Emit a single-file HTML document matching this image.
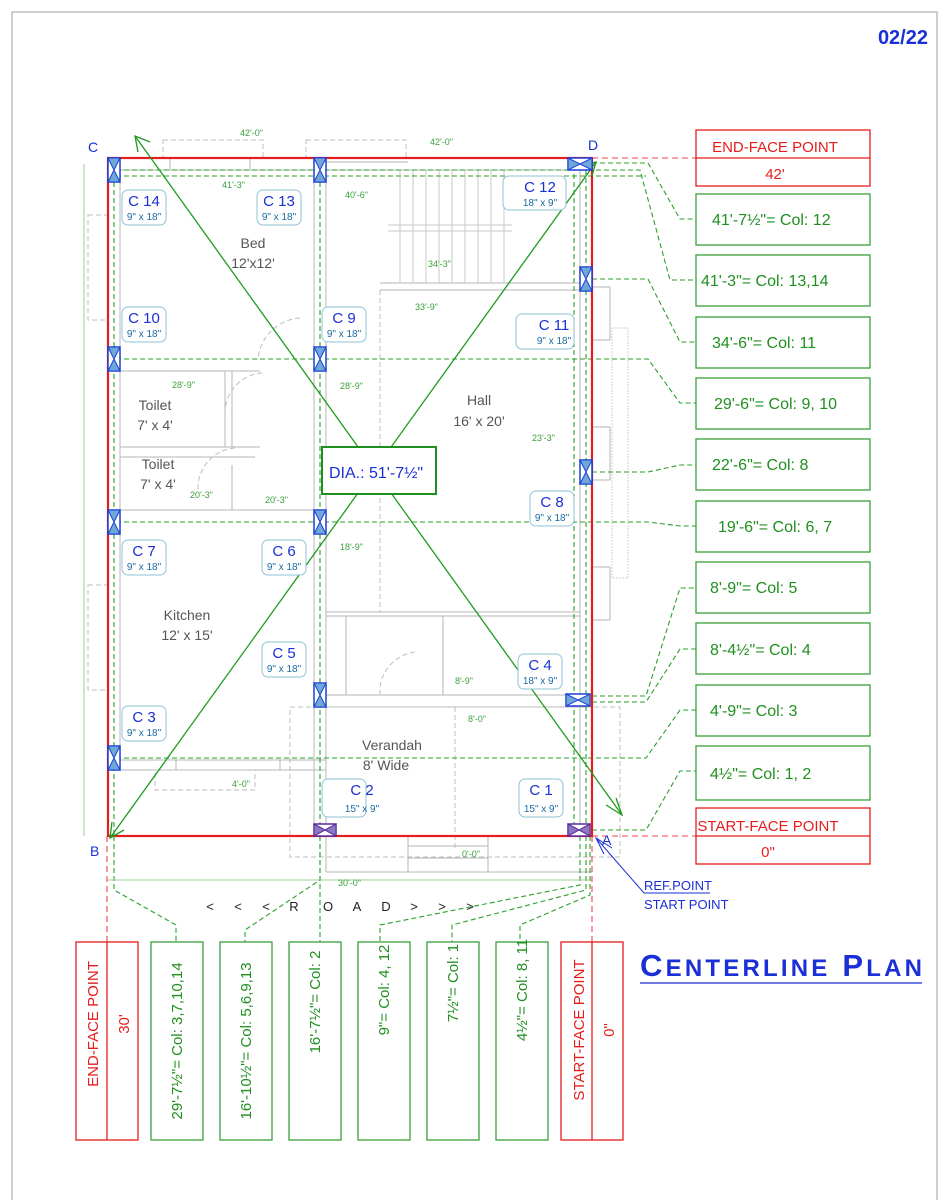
<!DOCTYPE html>
<html><head><meta charset="utf-8"><style>
html,body{margin:0;padding:0;background:#fff;}
svg{display:block;font-family:"Liberation Sans",sans-serif;}
</style></head><body>
<svg width="949" height="1200" viewBox="0 0 949 1200" xmlns="http://www.w3.org/2000/svg">
<defs>
<g id="cv"><rect x="0" y="0" width="12" height="24" fill="#fff" stroke="#1a3fd6" stroke-width="1.5"/><polygon points="0,0 12,0 6,12 12,24 0,24 6,12" fill="#6fa8d6" stroke="#1a3fd6" stroke-width="1"/></g>
<g id="ch"><rect x="0" y="0" width="24" height="12" fill="#fff" stroke="#1a3fd6" stroke-width="1.5"/><polygon points="0,0 12,6 24,0 24,12 12,6 0,12" fill="#6fa8d6" stroke="#1a3fd6" stroke-width="1"/></g>
<g id="cp"><rect x="0" y="0" width="22" height="12" fill="#fff" stroke="#5a2aa0" stroke-width="1.5"/><polygon points="0,0 11,6 22,0 22,12 11,6 0,12" fill="#8a78c0" stroke="#5a2aa0" stroke-width="1"/></g>
</defs>
<rect width="949" height="1200" fill="#fff"/>
<polyline points="12,1200 12,12 937,12 937,1200" fill="none" stroke="#bdbdbd" stroke-width="1.5"/>
<text x="928" y="44" font-size="20" font-weight="bold" fill="#1a2fd6" text-anchor="end">02/22</text>

<!-- gray walls -->
<g stroke="#b5b5b5" fill="none" stroke-width="1">
<rect x="108" y="158" width="484" height="678"/>
<line x1="120" y1="170" x2="580" y2="170"/>
<line x1="120" y1="170" x2="120" y2="770"/>
<line x1="314" y1="170" x2="314" y2="830"/>
<line x1="326" y1="170" x2="326" y2="830"/>
<line x1="580" y1="170" x2="580" y2="830"/>
<line x1="120" y1="371" x2="260" y2="371"/>
<line x1="120" y1="447" x2="260" y2="447"/>
<line x1="120" y1="457" x2="255" y2="457"/>
<line x1="120" y1="510" x2="314" y2="510"/>
<line x1="225" y1="371" x2="225" y2="447"/>
<line x1="232" y1="371" x2="232" y2="447"/>
<line x1="232" y1="465" x2="232" y2="510"/>
<line x1="380" y1="283" x2="580" y2="283"/>
<line x1="380" y1="290" x2="580" y2="290"/>
<line x1="326" y1="612" x2="580" y2="612"/>
<line x1="326" y1="616" x2="580" y2="616"/>
<line x1="346" y1="616" x2="346" y2="695"/>
<line x1="443" y1="616" x2="443" y2="695"/>
<line x1="326" y1="695" x2="592" y2="695"/>
<line x1="326" y1="707" x2="592" y2="707"/>
<line x1="120" y1="760" x2="326" y2="760"/>
<line x1="120" y1="770" x2="326" y2="770"/>
<line x1="176" y1="760" x2="176" y2="770"/>
<line x1="280" y1="760" x2="280" y2="770"/>
<line x1="326" y1="836" x2="326" y2="872"/>
<line x1="326" y1="872" x2="592" y2="872"/>
<line x1="408" y1="836" x2="408" y2="872"/>
<line x1="488" y1="836" x2="488" y2="872"/>
<line x1="408" y1="846" x2="488" y2="846"/>
<line x1="408" y1="858" x2="488" y2="858"/>
<line x1="170" y1="158" x2="170" y2="170"/><line x1="250" y1="158" x2="250" y2="170"/>
<line x1="326" y1="162" x2="408" y2="162"/>
<line x1="592" y1="287" x2="610" y2="287"/><line x1="610" y1="287" x2="610" y2="340"/><line x1="592" y1="340" x2="610" y2="340"/>
<line x1="592" y1="427" x2="610" y2="427"/><line x1="610" y1="427" x2="610" y2="480"/><line x1="592" y1="480" x2="610" y2="480"/>
<line x1="592" y1="567" x2="610" y2="567"/><line x1="610" y1="567" x2="610" y2="620"/><line x1="592" y1="620" x2="610" y2="620"/>
</g>
<g stroke="#c8c8c8" fill="none" stroke-width="1">
<line x1="400" y1="170" x2="400" y2="283"/><line x1="413" y1="170" x2="413" y2="283"/><line x1="426" y1="170" x2="426" y2="283"/>
<line x1="439" y1="170" x2="439" y2="283"/><line x1="452" y1="170" x2="452" y2="283"/><line x1="465" y1="170" x2="465" y2="283"/>
<line x1="478" y1="170" x2="478" y2="283"/><line x1="491" y1="170" x2="491" y2="283"/><line x1="504" y1="170" x2="504" y2="283"/>
<line x1="388" y1="225" x2="512" y2="225"/><line x1="388" y1="231" x2="512" y2="231"/>
<rect x="612" y="328" width="16" height="250" stroke="#d0d0d0" stroke-dasharray="2,1"/>
</g>
<g stroke="#bdbdbd" fill="none" stroke-width="1" stroke-dasharray="5,3">
<rect x="163" y="140" width="100" height="18"/>
<rect x="306" y="140" width="100" height="18"/>
<rect x="88" y="215" width="20" height="105"/>
<rect x="88" y="585" width="20" height="105"/>
<rect x="155" y="770" width="100" height="20"/>
<rect x="290" y="707" width="330" height="150"/>
<line x1="380" y1="290" x2="380" y2="612"/>
<line x1="455" y1="707" x2="455" y2="850"/>
<path d="M300 318 A45 45 0 0 0 258 360"/>
<path d="M262 373 A40 40 0 0 0 225 413"/>
<path d="M235 448 A40 40 0 0 0 198 490"/>
<path d="M415 652 A40 40 0 0 0 380 695"/>
</g>

<!-- green dashed gridlines -->
<g stroke="#2aa02a" fill="none" stroke-width="1.1" stroke-dasharray="5,3">
<line x1="114" y1="158" x2="114" y2="836"/>
<line x1="320" y1="158" x2="320" y2="836"/>
<line x1="586" y1="170" x2="586" y2="836"/>
<line x1="574" y1="158" x2="574" y2="836"/>
<line x1="108" y1="176" x2="646" y2="176"/>
<polyline points="592,163 648,163 680,219 696,219"/>
<polyline points="108,170 640,170 670,280 696,280"/>
<polyline points="592,279 648,279 680,342 696,342"/>
<polyline points="108,359 648,359 680,403 696,403"/>
<polyline points="592,472 648,472 680,465 696,465"/>
<polyline points="108,522 648,522 680,526 696,526"/>
<polyline points="592,696 646,696 680,588 696,588"/>
<polyline points="592,702 646,702 680,649 696,649"/>
<polyline points="108,758 646,758 680,710 696,710"/>
<polyline points="592,830 646,830 680,771 696,771"/>
<polyline points="114,836 114,890 176,925 176,942"/>
<polyline points="320,836 320,880 245,930 245,942"/>
<polyline points="320,836 320,942"/>
<polyline points="580,836 580,885 380,925 380,942"/>
<polyline points="586,836 586,890 452,925 452,942"/>
<polyline points="590,836 590,895 520,925 520,942"/>
</g>
<!-- red dashed -->
<g stroke="#e44" fill="none" stroke-width="1.1" stroke-dasharray="6,4">
<line x1="592" y1="158" x2="696" y2="158"/>
<line x1="592" y1="836" x2="696" y2="836"/>
<line x1="107" y1="836" x2="107" y2="942"/>
<line x1="592" y1="836" x2="592" y2="942"/>
</g>
<!-- thin green dimension lines -->
<g stroke="#7cc47c" fill="none" stroke-width="0.8">
<line x1="84" y1="164" x2="84" y2="836"/>
<line x1="108" y1="880" x2="592" y2="880"/>
</g>
<g font-size="9" fill="#3aa03a" font-family="Liberation Sans Narrow, Liberation Sans, sans-serif">
<text x="240" y="136">42'-0"</text><text x="430" y="145">42'-0"</text>
<text x="222" y="188">41'-3"</text><text x="345" y="198">40'-6"</text>
<text x="428" y="267">34'-3"</text><text x="415" y="310">33'-9"</text>
<text x="172" y="388">28'-9"</text><text x="340" y="389">28'-9"</text>
<text x="532" y="441">23'-3"</text><text x="190" y="498">20'-3"</text><text x="265" y="503">20'-3"</text>
<text x="340" y="550">18'-9"</text><text x="455" y="684">8'-9"</text><text x="468" y="722">8'-0"</text>
<text x="232" y="787">4'-0"</text><text x="462" y="857">0'-0"</text><text x="338" y="886">30'-0"</text>
</g>

<!-- red main outline -->
<rect x="108" y="158" width="484" height="678" fill="none" stroke="#e51d1d" stroke-width="2.2"/>

<!-- diagonals -->
<g stroke="#1f9a1f" stroke-width="1.3" fill="none">
<line x1="135" y1="136" x2="622" y2="815"/>
<line x1="596" y1="162" x2="110" y2="838"/>
<polyline points="138,152 135,136 150,142"/>
<polyline points="606,805 622,815 616,798"/>
<polyline points="580,166 596,162 592,176"/>
<polyline points="112,822 110,838 124,830"/>
</g>

<!-- columns -->
<use href="#cv" x="108" y="158"/><use href="#cv" x="314" y="158"/><use href="#ch" x="568" y="158"/>
<use href="#cv" x="580" y="267"/>
<use href="#cv" x="108" y="347"/><use href="#cv" x="314" y="347"/>
<use href="#cv" x="580" y="460"/>
<use href="#cv" x="108" y="510"/><use href="#cv" x="314" y="510"/>
<use href="#cv" x="314" y="683"/><use href="#ch" x="566" y="694"/>
<use href="#cv" x="108" y="746"/>
<use href="#cp" x="314" y="824"/><use href="#cp" x="568" y="824"/>

<!-- column labels -->
<g fill="#fff" stroke="#8ec3d6" stroke-width="1">
<rect x="122" y="190" width="44" height="35" rx="6"/><rect x="257" y="190" width="44" height="35" rx="6"/><rect x="503" y="176" width="63" height="34" rx="6"/>
<rect x="122" y="307" width="44" height="35" rx="6"/><rect x="322" y="307" width="44" height="35" rx="6"/><rect x="516" y="314" width="58" height="35" rx="6"/>
<rect x="530" y="491" width="44" height="35" rx="6"/>
<rect x="122" y="540" width="44" height="35" rx="6"/><rect x="262" y="540" width="44" height="35" rx="6"/>
<rect x="262" y="642" width="44" height="35" rx="6"/><rect x="518" y="654" width="44" height="35" rx="6"/>
<rect x="122" y="706" width="44" height="35" rx="6"/>
<rect x="322" y="779" width="44" height="38" rx="6"/><rect x="519" y="779" width="44" height="38" rx="6"/>
</g>
<g font-size="15" fill="#1a2fd6" text-anchor="middle">
<text x="144" y="206">C 14</text><text x="279" y="206">C 13</text><text x="540" y="192">C 12</text>
<text x="144" y="323">C 10</text><text x="344" y="323">C 9</text><text x="554" y="330">C 11</text>
<text x="552" y="507">C 8</text>
<text x="144" y="556">C 7</text><text x="284" y="556">C 6</text>
<text x="284" y="658">C 5</text><text x="540" y="670">C 4</text>
<text x="144" y="722">C 3</text>
<text x="362" y="795">C 2</text><text x="541" y="795">C 1</text>
</g>
<g font-size="10" fill="#1a6aa0" text-anchor="middle">
<text x="144" y="220">9" x 18"</text><text x="279" y="220">9" x 18"</text><text x="540" y="206">18" x 9"</text>
<text x="144" y="337">9" x 18"</text><text x="344" y="337">9" x 18"</text><text x="554" y="344">9" x 18"</text>
<text x="552" y="521">9" x 18"</text>
<text x="144" y="570">9" x 18"</text><text x="284" y="570">9" x 18"</text>
<text x="284" y="672">9" x 18"</text><text x="540" y="684">18" x 9"</text>
<text x="144" y="736">9" x 18"</text>
<text x="362" y="812">15" x 9"</text><text x="541" y="812">15" x 9"</text>
</g>

<!-- room labels -->
<g font-size="14" fill="#555" text-anchor="middle">
<text x="253" y="248">Bed</text><text x="253" y="268">12'x12'</text>
<text x="155" y="410">Toilet</text><text x="155" y="430">7' x 4'</text>
<text x="158" y="469">Toilet</text><text x="158" y="489">7' x 4'</text>
<text x="479" y="405">Hall</text><text x="479" y="426">16' x 20'</text>
<text x="187" y="620">Kitchen</text><text x="187" y="640">12' x 15'</text>
<text x="392" y="750">Verandah</text><text x="386" y="770">8' Wide</text>
</g>

<!-- corner letters -->
<g font-size="14" fill="#1a2fd6"><text x="88" y="152">C</text><text x="588" y="150">D</text><text x="90" y="856">B</text><text x="602" y="845">A</text></g>

<!-- DIA box -->
<rect x="322" y="447" width="114" height="47" fill="#fff" stroke="#1f8f1f" stroke-width="2"/>
<text x="329" y="478" font-size="16" fill="#1a2fd6">DIA.: 51'-7½"</text>

<!-- ROAD -->
<g font-size="13" fill="#222" text-anchor="middle">
<text x="210" y="911">&lt;</text><text x="238" y="911">&lt;</text><text x="266" y="911">&lt;</text>
<text x="294" y="911">R</text><text x="328" y="911">O</text><text x="357" y="911">A</text><text x="386" y="911">D</text>
<text x="414" y="911">&gt;</text><text x="442" y="911">&gt;</text><text x="470" y="911">&gt;</text>
</g>

<!-- ref point -->
<line x1="596" y1="838" x2="644" y2="893" stroke="#1a2fd6" stroke-width="1"/>
<line x1="644" y1="893" x2="710" y2="893" stroke="#1a2fd6" stroke-width="1"/>
<polyline points="604,854 596,838 612,848" fill="none" stroke="#1a2fd6" stroke-width="1"/>
<g font-size="13" fill="#1a2fd6" font-family="Liberation Sans Narrow, Liberation Sans, sans-serif"><text x="644" y="890">REF.POINT</text><text x="644" y="909">START POINT</text></g>

<!-- right boxes -->
<g fill="#fff" stroke-width="1.3">
<rect x="696" y="130" width="174" height="56" stroke="#e51d1d"/><line x1="696" y1="158" x2="870" y2="158" stroke="#e51d1d"/>
<rect x="696" y="194" width="174" height="51" stroke="#3aa03a"/>
<rect x="696" y="255" width="174" height="51" stroke="#3aa03a"/>
<rect x="696" y="317" width="174" height="51" stroke="#3aa03a"/>
<rect x="696" y="378" width="174" height="51" stroke="#3aa03a"/>
<rect x="696" y="439" width="174" height="51" stroke="#3aa03a"/>
<rect x="696" y="501" width="174" height="51" stroke="#3aa03a"/>
<rect x="696" y="562" width="174" height="51" stroke="#3aa03a"/>
<rect x="696" y="623" width="174" height="51" stroke="#3aa03a"/>
<rect x="696" y="685" width="174" height="51" stroke="#3aa03a"/>
<rect x="696" y="746" width="174" height="54" stroke="#3aa03a"/>
<rect x="696" y="808" width="174" height="56" stroke="#e51d1d"/><line x1="696" y1="836" x2="870" y2="836" stroke="#e51d1d"/>
</g>
<g font-size="15" fill="#e51d1d" text-anchor="middle"><text x="775" y="152">END-FACE POINT</text><text x="775" y="179">42'</text><text x="768" y="831">START-FACE POINT</text><text x="768" y="857">0"</text></g>
<g font-size="16" fill="#1f8f1f">
<text x="712" y="225">41'-7½"= Col: 12</text>
<text x="701" y="286">41'-3"= Col: 13,14</text>
<text x="712" y="348">34'-6"= Col: 11</text>
<text x="714" y="409">29'-6"= Col: 9, 10</text>
<text x="712" y="470">22'-6"= Col: 8</text>
<text x="718" y="532">19'-6"= Col: 6, 7</text>
<text x="710" y="593">8'-9"= Col: 5</text>
<text x="710" y="655">8'-4½"= Col: 4</text>
<text x="710" y="716">4'-9"= Col: 3</text>
<text x="710" y="779">4½"= Col: 1, 2</text>
</g>

<!-- bottom boxes -->
<g fill="#fff" stroke-width="1.3">
<rect x="76" y="942" width="62" height="198" stroke="#e51d1d"/><line x1="107" y1="942" x2="107" y2="1140" stroke="#e51d1d"/>
<rect x="151" y="942" width="52" height="198" stroke="#3aa03a"/>
<rect x="220" y="942" width="52" height="198" stroke="#3aa03a"/>
<rect x="289" y="942" width="52" height="198" stroke="#3aa03a"/>
<rect x="358" y="942" width="52" height="198" stroke="#3aa03a"/>
<rect x="427" y="942" width="52" height="198" stroke="#3aa03a"/>
<rect x="496" y="942" width="52" height="198" stroke="#3aa03a"/>
<rect x="561" y="942" width="62" height="198" stroke="#e51d1d"/><line x1="592" y1="942" x2="592" y2="1140" stroke="#e51d1d"/>
</g>
<g font-size="15" fill="#e51d1d" text-anchor="middle">
<text transform="translate(98,1024) rotate(-90)">END-FACE POINT</text>
<text transform="translate(129,1024) rotate(-90)">30'</text>
<text transform="translate(584,1030) rotate(-90)">START-FACE POINT</text>
<text transform="translate(614,1030) rotate(-90)">0"</text>
</g>
<g font-size="15" fill="#1f8f1f" text-anchor="middle">
<text transform="translate(182,1041) rotate(-90)">29'-7½"= Col: 3,7,10,14</text>
<text transform="translate(251,1041) rotate(-90)">16'-10½"= Col: 5,6,9,13</text>
<text transform="translate(320,1002) rotate(-90)">16'-7½"= Col: 2</text>
<text transform="translate(389,990) rotate(-90)">9"= Col: 4, 12</text>
<text transform="translate(458,983) rotate(-90)">7½"= Col: 1</text>
<text transform="translate(527,990) rotate(-90)">4½"= Col: 8, 11</text>
</g>

<!-- title -->
<text x="640" y="976" font-size="31" font-weight="bold" fill="#1a2fd6" textLength="282" lengthAdjust="spacing">C<tspan font-size="24">ENTERLINE</tspan> P<tspan font-size="24">LAN</tspan></text>
<line x1="640" y1="983" x2="922" y2="983" stroke="#1a2fd6" stroke-width="1.2"/>
</svg>
</body></html>
